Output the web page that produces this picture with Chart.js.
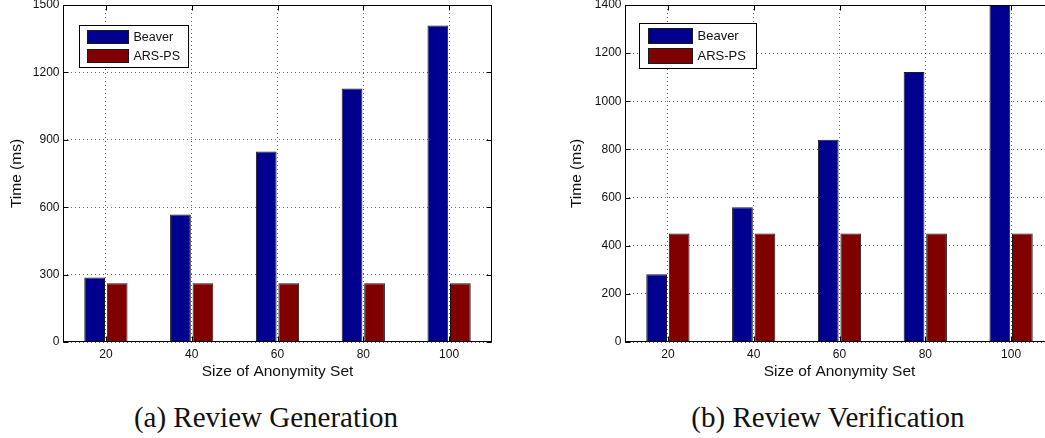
<!DOCTYPE html>
<html>
<head>
<meta charset="utf-8">
<script src="https://cdn.jsdelivr.net/npm/chart.js@4.4.1/dist/chart.umd.min.js"></script>
<style>
  html, body { margin:0; padding:0; background:#fff; }
  body { width:1045px; height:438px; overflow:hidden; position:relative; }
  .wrap { position:absolute; top:0; }
  .cap { position:absolute; top:403px; width:400px; text-align:center;
         font-family:"Liberation Serif", "Times New Roman", serif; font-size:29px; line-height:29px; color:#111; white-space:nowrap; }
</style>
</head>
<body>
<div class="wrap" style="left:0px"><canvas id="chartGen" width="520" height="385"></canvas></div>
<div class="wrap" style="left:562px"><canvas id="chartVer" width="520" height="385"></canvas></div>
<div class="cap" style="left:66px">(a) Review Generation</div>
<div class="cap" style="left:628px">(b) Review Verification</div>
<script>
// ---- data ----
const categories = ['20', '40', '60', '80', '100'];
const seriesNames = ['Beaver', 'ARS-PS'];
const genBeaver = [287, 567, 848, 1128, 1409];
const genArsPs  = [262, 262, 262, 262, 262];
const verBeaver = [281, 560, 840, 1122, 1402];
const verArsPs  = [451, 451, 451, 451, 451];
const genYMax = 1500, genYStep = 300;
const verYMax = 1400, verYStep = 200;
const xTitle = 'Size of Anonymity Set';
const yTitle = 'Time (ms)';

// ---- styles ----
const FONT = '"Liberation Sans", Arial, Helvetica, sans-serif';
const colors = ['#00008f', '#800000'];
const edge = '#1a1a1a';

// frame + inward tick marks (MATLAB style)
const framePlugin = {
  id: 'frame',
  afterDatasetsDraw(chart) {
    const {ctx, chartArea: a, scales: {x, y}} = chart;
    ctx.save();
    ctx.strokeStyle = '#000';
    ctx.lineWidth = 1;
    ctx.setLineDash([]);
    const L = Math.round(a.left) + 0.5, R = Math.round(a.right) - 0.5;
    const T = Math.round(a.top) + 0.5, B = Math.round(a.bottom) - 0.5;
    ctx.strokeRect(L, T, R - L, B - T);
    ctx.beginPath();
    const tl = 5;
    y.ticks.forEach((t, i) => {
      const p = Math.round(y.getPixelForTick(i)) + 0.5;
      ctx.moveTo(L, p); ctx.lineTo(L + tl, p);
      ctx.moveTo(R, p); ctx.lineTo(R - tl, p);
    });
    x.ticks.forEach((t, i) => {
      const p = Math.round(x.getPixelForTick(i)) + 0.5;
      ctx.moveTo(p, B); ctx.lineTo(p, B - tl);
      ctx.moveTo(p, T); ctx.lineTo(p, T + tl);
    });
    ctx.stroke();
    ctx.restore();
  }
};

// legend box inside the plot area
const boxLegend = {
  id: 'boxLegend',
  afterDraw(chart, args, o) {
    const {ctx, chartArea: a} = chart;
    const bx = Math.round(a.left + o.x) + 0.5, by = Math.round(a.top + o.y) + 0.5;
    ctx.save();
    ctx.setLineDash([]);
    ctx.fillStyle = '#fff';
    ctx.fillRect(bx, by, o.w, o.h);
    ctx.strokeStyle = '#000';
    ctx.lineWidth = 1;
    ctx.strokeRect(bx, by, o.w, o.h);
    ctx.font = o.font + 'px ' + FONT;
    ctx.textBaseline = 'middle';
    ctx.textAlign = 'left';
    chart.data.datasets.forEach((ds, i) => {
      const sy = by + o.rowY + i * o.rowGap;
      ctx.fillStyle = ds.backgroundColor;
      ctx.fillRect(bx + o.swX, sy, o.swW, o.swH);
      ctx.strokeStyle = edge;
      ctx.strokeRect(bx + o.swX, sy, o.swW, o.swH);
      ctx.fillStyle = '#111';
      ctx.fillText(ds.label, bx + o.swX + o.swW + 5, sy + o.swH / 2 + 0.5);
    });
    ctx.restore();
  }
};

function makeChart(id, beaver, ars, yMax, yStep, yTitlePad, legendOpts) {
  return new Chart(document.getElementById(id), {
    type: 'bar',
    data: {
      labels: categories,
      datasets: [
        { label: seriesNames[0], data: beaver, backgroundColor: colors[0], borderColor: edge, borderWidth: 1 },
        { label: seriesNames[1], data: ars, backgroundColor: colors[1], borderColor: edge, borderWidth: 1 }
      ]
    },
    options: {
      responsive: false,
      devicePixelRatio: 1,
      animation: false,
      layout: { padding: { left: 0, top: 5, right: 28, bottom: 3 } },
      datasets: { bar: { categoryPercentage: 0.525, barPercentage: 0.92 } },
      plugins: {
        legend: { display: false },
        tooltip: { enabled: false },
        boxLegend: legendOpts
      },
      scales: {
        x: {
          offset: true,
          grid: { offset: false, drawTicks: false, color: 'rgba(0,0,0,0.6)', lineWidth: 1 },
          border: { display: false, dash: [1, 3] },
          ticks: { padding: 5, color: '#111', font: { family: FONT, size: 12 }, maxRotation: 0 },
          title: { display: true, text: xTitle, color: '#111', font: { family: FONT, size: 15.5 }, padding: { top: 0, bottom: 1 } },
          afterFit(s) { s.height = 40; s.paddingLeft = 0; s.paddingRight = 0; }
        },
        y: {
          min: 0, max: yMax,
          grid: { drawTicks: false, color: 'rgba(0,0,0,0.6)', lineWidth: 1 },
          border: { display: false, dash: [1, 3] },
          ticks: { stepSize: yStep, padding: 3.5, color: '#111', font: { family: FONT, size: 12 },
                   callback: (v) => String(v) },
          title: { display: true, text: yTitle, color: '#111', font: { family: FONT, size: 15.5 }, padding: { top: yTitlePad, bottom: 0 } },
          afterFit(s) { s.width = 63; s.paddingTop = 0; s.paddingBottom = 0; }
        }
      }
    },
    plugins: [framePlugin, boxLegend]
  });
}

makeChart('chartGen', genBeaver, genArsPs, genYMax, genYStep, 7.7,
  { x: 16, y: 20, w: 109, h: 42, swX: 8, swW: 41, swH: 13, rowY: 5, rowGap: 19, font: 12.5 });
makeChart('chartVer', verBeaver, verArsPs, verYMax, verYStep, 5.7,
  { x: 14, y: 18, w: 117, h: 45, swX: 9, swW: 44, swH: 15, rowY: 5, rowGap: 20, font: 13 });
</script>
</body>
</html>
